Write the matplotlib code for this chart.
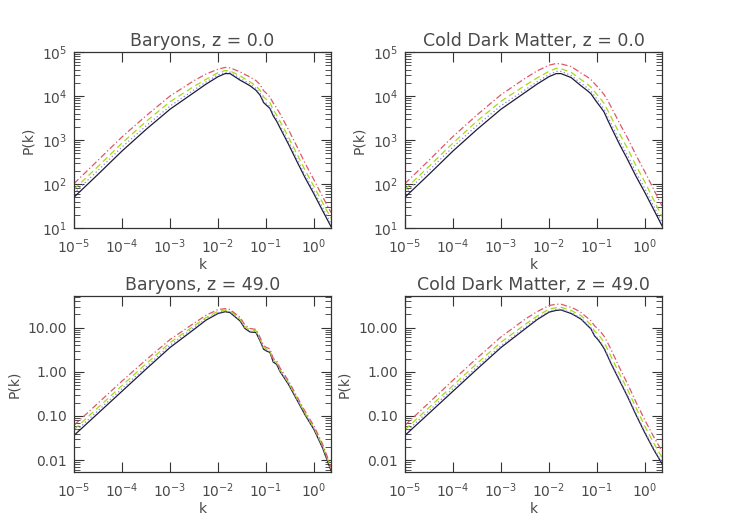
import matplotlib
matplotlib.use('Agg')
import matplotlib.pyplot as plt
import matplotlib.ticker as mticker
import numpy as np

# log10(k) sample points shared by all panels
log_k = [-5, -4.5, -4, -3.5, -3, -2.5, -2.25, -2, -1.85, -1.75, -1.54, -1.44,
         -1.33, -1.21, -1.125, -1.05, -0.99, -0.92, -0.85, -0.78, -0.71,
         -0.53, -0.36, -0.19, 0, 0.18, 0.354]

# log10 P(k): solid / dotted / dashed / dash-dot
bar0_solid = [1.70, 2.22, 2.75, 3.24, 3.70, 4.08, 4.27, 4.44, 4.51, 4.51, 4.36, 4.30,
              4.23, 4.13, 4.02, 3.85, 3.79, 3.72, 3.55, 3.43, 3.28,
              2.90, 2.52, 2.15, 1.77, 1.39, 1.03]
bar0_dot = [1.79, 2.31, 2.84, 3.32, 3.77, 4.14, 4.32, 4.48, 4.54, 4.54, 4.40, 4.34,
            4.27, 4.17, 4.06, 3.89, 3.83, 3.76, 3.60, 3.48, 3.33,
            2.96, 2.58, 2.21, 1.83, 1.46, 1.10]
bar0_dash = [1.88, 2.40, 2.93, 3.42, 3.87, 4.22, 4.38, 4.53, 4.58, 4.57, 4.46, 4.39,
             4.32, 4.23, 4.13, 3.98, 3.92, 3.85, 3.69, 3.57, 3.43,
             3.06, 2.69, 2.32, 1.94, 1.57, 1.22]
bar0_dashdot = [2.01, 2.54, 3.07, 3.55, 4.00, 4.35, 4.50, 4.61, 4.65, 4.64, 4.55, 4.49,
                4.43, 4.35, 4.26, 4.12, 4.06, 3.98, 3.84, 3.73, 3.60,
                3.23, 2.86, 2.48, 2.09, 1.71, 1.35]

cdm0_solid = [1.70, 2.22, 2.75, 3.24, 3.70, 4.08, 4.27, 4.44, 4.51, 4.51, 4.42, 4.33,
              4.23, 4.13, 4.05, 3.93, 3.84, 3.74, 3.63, 3.46, 3.30,
              2.90, 2.55, 2.18, 1.80, 1.42, 1.05]
cdm0_dot = [1.80, 2.31, 2.84, 3.33, 3.78, 4.14, 4.32, 4.49, 4.56, 4.56, 4.47, 4.38,
            4.29, 4.19, 4.11, 4.00, 3.91, 3.81, 3.70, 3.54, 3.38,
            2.98, 2.64, 2.27, 1.89, 1.50, 1.13]
cdm0_dash = [1.88, 2.40, 2.93, 3.43, 3.88, 4.24, 4.41, 4.56, 4.63, 4.62, 4.54, 4.46,
             4.37, 4.28, 4.20, 4.10, 4.02, 3.93, 3.83, 3.68, 3.53,
             3.14, 2.80, 2.42, 2.04, 1.64, 1.26]
cdm0_dashdot = [2.01, 2.54, 3.08, 3.57, 4.03, 4.40, 4.57, 4.70, 4.74, 4.73, 4.67, 4.60,
                4.52, 4.44, 4.37, 4.28, 4.21, 4.12, 4.03, 3.90, 3.76,
                3.38, 3.04, 2.66, 2.27, 1.88, 1.50]

bar49_solid = [-1.44, -0.94, -0.44, 0.06, 0.55, 0.96, 1.17, 1.32, 1.36, 1.34, 1.15, 0.98,
               0.90, 0.89, 0.70, 0.51, 0.47, 0.44, 0.22, 0.17, 0.01,
               -0.29, -0.63, -0.97, -1.31, -1.73, -2.24]
bar49_dot = [-1.38, -0.88, -0.38, 0.11, 0.60, 1.00, 1.20, 1.34, 1.38, 1.36, 1.17, 1.00,
             0.92, 0.91, 0.72, 0.53, 0.49, 0.46, 0.24, 0.19, 0.03,
             -0.27, -0.61, -0.95, -1.29, -1.71, -2.22]
bar49_dash = [-1.31, -0.81, -0.31, 0.18, 0.66, 1.04, 1.23, 1.37, 1.40, 1.38, 1.19, 1.02,
              0.94, 0.93, 0.74, 0.55, 0.51, 0.48, 0.26, 0.21, 0.05,
              -0.25, -0.59, -0.93, -1.27, -1.68, -2.19]
bar49_dashdot = [-1.21, -0.71, -0.21, 0.27, 0.73, 1.10, 1.28, 1.41, 1.43, 1.41, 1.23, 1.06,
                 0.98, 0.96, 0.78, 0.59, 0.55, 0.52, 0.30, 0.25, 0.09,
                 -0.21, -0.55, -0.89, -1.23, -1.64, -2.15]

cdm49_solid = [-1.44, -0.94, -0.44, 0.06, 0.55, 0.97, 1.18, 1.35, 1.39, 1.40, 1.32, 1.26,
               1.19, 1.06, 0.97, 0.81, 0.74, 0.64, 0.52, 0.36, 0.19,
               -0.20, -0.57, -0.97, -1.39, -1.76, -2.08]
cdm49_dot = [-1.38, -0.88, -0.38, 0.11, 0.59, 1.00, 1.21, 1.37, 1.41, 1.42, 1.34, 1.28,
             1.21, 1.08, 0.99, 0.84, 0.77, 0.67, 0.55, 0.39, 0.22,
             -0.17, -0.54, -0.94, -1.36, -1.73, -2.05]
cdm49_dash = [-1.31, -0.81, -0.31, 0.19, 0.67, 1.07, 1.26, 1.42, 1.45, 1.46, 1.39, 1.33,
              1.27, 1.15, 1.06, 0.92, 0.86, 0.77, 0.66, 0.51, 0.35,
              -0.05, -0.41, -0.81, -1.24, -1.61, -1.94]
cdm49_dashdot = [-1.21, -0.70, -0.19, 0.31, 0.79, 1.19, 1.36, 1.50, 1.53, 1.53, 1.46, 1.41,
                 1.34, 1.23, 1.15, 1.04, 0.98, 0.90, 0.80, 0.66, 0.51,
                 0.09, -0.28, -0.68, -1.10, -1.47, -1.80]

titles = ['Baryons, z = 0.0', 'Cold Dark Matter, z = 0.0',
          'Baryons, z = 49.0', 'Cold Dark Matter, z = 49.0']
panels = [[bar0_solid, bar0_dot, bar0_dash, bar0_dashdot],
          [cdm0_solid, cdm0_dot, cdm0_dash, cdm0_dashdot],
          [bar49_solid, bar49_dot, bar49_dash, bar49_dashdot],
          [cdm49_solid, cdm49_dot, cdm49_dash, cdm49_dashdot]]

colors = ['#1c1c3a', '#8585e0', '#a8d818', '#e0566a']
styles = ['-', (0, (1, 2)), (0, (5, 3)), (0, (5, 2, 1, 2))]

txt = '#4a4a4a'
plt.rcParams['font.family'] = 'DejaVu Sans'
plt.rcParams['mathtext.default'] = 'regular'

fig = plt.figure(figsize=(7.35, 5.25), dpi=100)
boxes = [[0.1007, 0.5657, 0.3497, 0.3352],
         [0.5510, 0.5657, 0.3497, 0.3352],
         [0.1007, 0.1010, 0.3497, 0.3352],
         [0.5510, 0.1010, 0.3497, 0.3352]]
ylims = [(10, 1e5), (10, 1e5), (0.0054, 52), (0.0054, 52)]

k = 10.0 ** np.array(log_k)
for i in range(4):
    ax = fig.add_axes(boxes[i])
    for j in range(4):
        ax.plot(k, 10.0 ** np.array(panels[i][j]), color=colors[j],
                linestyle=styles[j], linewidth=0.9)
    ax.set_xscale('log')
    ax.set_yscale('log')
    ax.set_xlim(1e-5, 10 ** 0.354)
    ax.set_ylim(*ylims[i])
    ax.set_title(titles[i], fontsize=12.5, color=txt, pad=4)
    ax.set_xlabel('k', fontsize=10, color=txt, labelpad=1)
    ax.set_ylabel('P(k)', fontsize=10, color=txt, labelpad=5)
    ax.xaxis.set_major_locator(mticker.LogLocator(base=10, numticks=10))
    ax.xaxis.set_minor_locator(mticker.NullLocator())
    ax.yaxis.set_minor_locator(mticker.LogLocator(base=10, subs=np.arange(2, 10), numticks=20))
    if i >= 2:
        ax.yaxis.set_major_formatter(mticker.FormatStrFormatter('%.2f'))
    ax.tick_params(which='both', direction='in', top=True, right=True,
                   colors='#333333', labelcolor=txt, labelsize=10)
    ax.tick_params(which='major', length=7, width=0.8, pad=5)
    ax.tick_params(axis='x', which='major', pad=7)
    ax.tick_params(which='minor', length=4, width=0.6)
    for s in ax.spines.values():
        s.set_color('#333333')
        s.set_linewidth(0.9)

plt.savefig('out.png', dpi=100)
